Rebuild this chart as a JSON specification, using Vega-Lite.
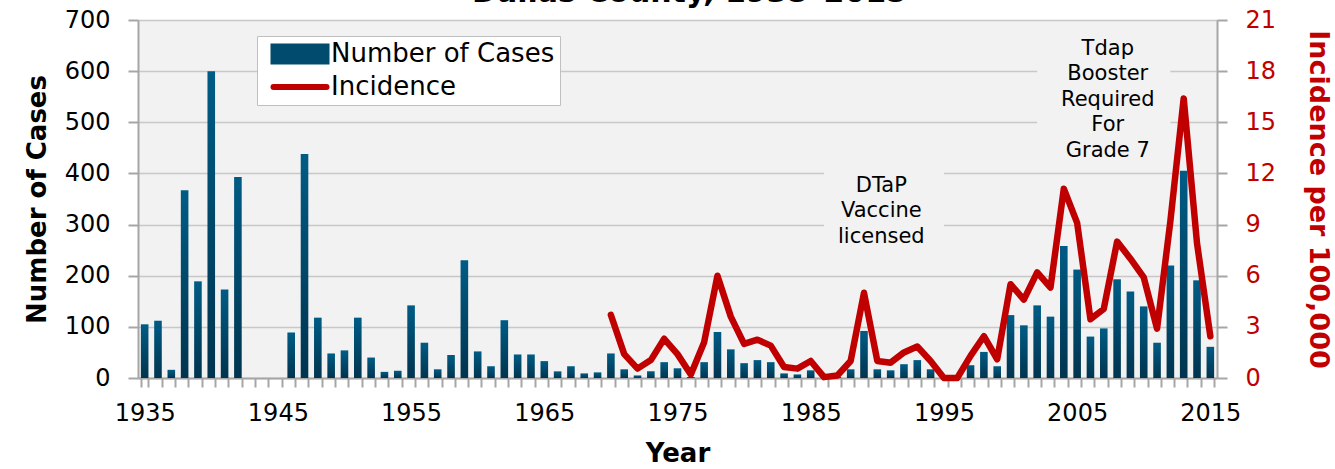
{
  "$schema": "https://vega.github.io/schema/vega-lite/v6.json",
  "width": 1079,
  "height": 358,
  "autosize": "none",
  "padding": {"left": 138, "top": 20, "right": 118, "bottom": 91},
  "background": "white",
  "config": {
    "font": "DejaVu Sans",
    "view": {"fill": "#f2f2f2", "stroke": null},
    "axis": {
      "labelFont": "DejaVu Sans",
      "titleFont": "DejaVu Sans",
      "labelColor": "#000000",
      "titleColor": "#000000",
      "domainColor": "#a6a6a6",
      "domainWidth": 2,
      "tickColor": "#a6a6a6",
      "tickWidth": 2,
      "gridColor": "#c8c8c8",
      "gridWidth": 1.5,
      "labelFontSize": 24,
      "titleFontSize": 26,
      "titleFontWeight": "bold"
    }
  },
  "title": {
    "text": "Dallas County, 1935\u20132015",
    "fontSize": 30,
    "fontWeight": "bold",
    "font": "DejaVu Sans",
    "color": "#000000",
    "anchor": "middle",
    "frame": "group",
    "baseline": "bottom",
    "offset": -30,
    "dx": 12
  },
  "datasets": {
    "pertussis": [
      {"year": 1935, "cases": 105, "incidence": null},
      {"year": 1936, "cases": 112, "incidence": null},
      {"year": 1937, "cases": 16, "incidence": null},
      {"year": 1938, "cases": 367, "incidence": null},
      {"year": 1939, "cases": 189, "incidence": null},
      {"year": 1940, "cases": 600, "incidence": null},
      {"year": 1941, "cases": 173, "incidence": null},
      {"year": 1942, "cases": 393, "incidence": null},
      {"year": 1943, "cases": 0, "incidence": null},
      {"year": 1944, "cases": 0, "incidence": null},
      {"year": 1945, "cases": 0, "incidence": null},
      {"year": 1946, "cases": 89, "incidence": null},
      {"year": 1947, "cases": 438, "incidence": null},
      {"year": 1948, "cases": 118, "incidence": null},
      {"year": 1949, "cases": 48, "incidence": null},
      {"year": 1950, "cases": 54, "incidence": null},
      {"year": 1951, "cases": 118, "incidence": null},
      {"year": 1952, "cases": 40, "incidence": null},
      {"year": 1953, "cases": 12, "incidence": null},
      {"year": 1954, "cases": 14, "incidence": null},
      {"year": 1955, "cases": 142, "incidence": null},
      {"year": 1956, "cases": 69, "incidence": null},
      {"year": 1957, "cases": 17, "incidence": null},
      {"year": 1958, "cases": 45, "incidence": null},
      {"year": 1959, "cases": 230, "incidence": null},
      {"year": 1960, "cases": 52, "incidence": null},
      {"year": 1961, "cases": 23, "incidence": null},
      {"year": 1962, "cases": 113, "incidence": null},
      {"year": 1963, "cases": 46, "incidence": null},
      {"year": 1964, "cases": 46, "incidence": null},
      {"year": 1965, "cases": 33, "incidence": null},
      {"year": 1966, "cases": 13, "incidence": null},
      {"year": 1967, "cases": 23, "incidence": null},
      {"year": 1968, "cases": 9, "incidence": null},
      {"year": 1969, "cases": 11, "incidence": null},
      {"year": 1970, "cases": 48, "incidence": 3.7},
      {"year": 1971, "cases": 17, "incidence": 1.4},
      {"year": 1972, "cases": 5, "incidence": 0.55},
      {"year": 1973, "cases": 13, "incidence": 1.05},
      {"year": 1974, "cases": 31, "incidence": 2.3},
      {"year": 1975, "cases": 19, "incidence": 1.4},
      {"year": 1976, "cases": 2, "incidence": 0.2},
      {"year": 1977, "cases": 31, "incidence": 2.1},
      {"year": 1978, "cases": 90, "incidence": 6.0},
      {"year": 1979, "cases": 56, "incidence": 3.6},
      {"year": 1980, "cases": 29, "incidence": 2.0},
      {"year": 1981, "cases": 35, "incidence": 2.25},
      {"year": 1982, "cases": 31, "incidence": 1.9},
      {"year": 1983, "cases": 9, "incidence": 0.65},
      {"year": 1984, "cases": 7, "incidence": 0.55},
      {"year": 1985, "cases": 15, "incidence": 1.0},
      {"year": 1986, "cases": 1, "incidence": 0.05},
      {"year": 1987, "cases": 2, "incidence": 0.15},
      {"year": 1988, "cases": 17, "incidence": 1.0},
      {"year": 1989, "cases": 92, "incidence": 5.0},
      {"year": 1990, "cases": 17, "incidence": 1.0},
      {"year": 1991, "cases": 15, "incidence": 0.9},
      {"year": 1992, "cases": 27, "incidence": 1.5},
      {"year": 1993, "cases": 35, "incidence": 1.85},
      {"year": 1994, "cases": 17, "incidence": 1.0},
      {"year": 1995, "cases": 0, "incidence": 0.0},
      {"year": 1996, "cases": 0, "incidence": 0.0},
      {"year": 1997, "cases": 25, "incidence": 1.3},
      {"year": 1998, "cases": 51, "incidence": 2.45},
      {"year": 1999, "cases": 23, "incidence": 1.1},
      {"year": 2000, "cases": 123, "incidence": 5.5},
      {"year": 2001, "cases": 103, "incidence": 4.6},
      {"year": 2002, "cases": 142, "incidence": 6.2},
      {"year": 2003, "cases": 120, "incidence": 5.3},
      {"year": 2004, "cases": 258, "incidence": 11.1},
      {"year": 2005, "cases": 212, "incidence": 9.1},
      {"year": 2006, "cases": 81, "incidence": 3.45},
      {"year": 2007, "cases": 97, "incidence": 4.05},
      {"year": 2008, "cases": 193, "incidence": 8.0},
      {"year": 2009, "cases": 169, "incidence": 7.0},
      {"year": 2010, "cases": 140, "incidence": 5.9},
      {"year": 2011, "cases": 69, "incidence": 2.9},
      {"year": 2012, "cases": 220, "incidence": 9.2},
      {"year": 2013, "cases": 405, "incidence": 16.4},
      {"year": 2014, "cases": 191, "incidence": 7.9},
      {"year": 2015, "cases": 61, "incidence": 2.45}
    ],
    "notes": [
      {"year": 1990, "from": 1986, "to": 1995, "top": 420, "bottom": 250, "textTop": 397, "label": "DTaP\nVaccine\nlicensed"},
      {"year": 2007, "from": 2002, "to": 2012, "top": 690, "bottom": 425, "textTop": 665, "label": "Tdap\nBooster\nRequired\nFor\nGrade 7"}
    ]
  },
  "layer": [
    {
      "layer": [
        {
          "data": {"name": "pertussis"},
          "mark": {
            "type": "bar",
            "color": {
              "gradient": "linear",
              "x1": 0, "y1": 0, "x2": 0, "y2": 1,
              "stops": [
                {"offset": 0, "color": "#005c85"},
                {"offset": 1, "color": "#00344f"}
              ]
            }
          },
          "encoding": {
            "x": {
              "field": "year",
              "type": "ordinal",
              "title": "Year",
              "scale": {"paddingInner": 0.43, "paddingOuter": 0.215},
              "axis": {
                "title": "Year",
                "labelAngle": 0,
                "labelExpr": "datum.value % 10 == 5 ? datum.label : ''",
                "labelOverlap": false,
                "tickBand": "extent",
                "tickSize": 9,
                "labelPadding": 14,
                "titlePadding": 15,
                "grid": false
              }
            },
            "y": {
              "field": "cases",
              "type": "quantitative",
              "title": "Number of Cases",
              "scale": {"domain": [0, 700], "nice": false},
              "axis": {
                "title": "Number of Cases",
                "values": [0, 100, 200, 300, 400, 500, 600, 700],
                "grid": true,
                "tickSize": 10,
                "labelPadding": 18,
                "titlePadding": 14
              }
            }
          }
        },
        {
          "data": {"name": "notes"},
          "mark": {"type": "rect", "fill": "#f2f2f2", "stroke": null},
          "encoding": {
            "x": {"field": "from", "type": "ordinal", "title": "Year"},
            "x2": {"field": "to"},
            "y": {"field": "bottom", "type": "quantitative", "title": "Number of Cases"},
            "y2": {"field": "top"}
          }
        },
        {
          "data": {"name": "notes"},
          "mark": {
            "type": "text",
            "align": "center",
            "baseline": "top",
            "fontSize": 21,
            "lineHeight": 25.5,
            "lineBreak": "\n",
            "color": "#000000",
            "dx": 4
          },
          "encoding": {
            "x": {"field": "year", "type": "ordinal", "title": "Year"},
            "y": {"field": "textTop", "type": "quantitative", "title": "Number of Cases"},
            "text": {"field": "label"}
          }
        }
      ]
    },
    {
      "data": {"name": "pertussis"},
      "transform": [{"filter": "datum.incidence != null"}],
      "mark": {"type": "line", "strokeWidth": 6.5, "strokeJoin": "round", "strokeCap": "round"},
      "encoding": {
        "x": {"field": "year", "type": "ordinal", "title": "Year"},
        "y": {
          "field": "incidence",
          "type": "quantitative",
          "scale": {"domain": [0, 21], "nice": false},
          "axis": {
            "orient": "right",
            "title": "Incidence per 100,000",
            "values": [0, 3, 6, 9, 12, 15, 18, 21],
            "grid": false,
            "tickSize": 10,
            "labelPadding": 18,
            "titlePadding": 28,
            "labelColor": "#c00000",
            "titleColor": "#c00000",
            "titleFontSize": 27
          }
        },
        "color": {
          "datum": "Incidence",
          "scale": {"domain": ["Number of Cases", "Incidence"], "range": ["#004b6e", "#c00000"]},
          "legend": {
            "orient": "none",
            "legendX": 119,
            "legendY": 16,
            "title": null,
            "direction": "vertical",
            "fillColor": "#ffffff",
            "strokeColor": "#c0c0c0",
            "padding": 5,
            "labelFont": "DejaVu Sans",
            "labelFontSize": 26,
            "labelColor": "#000000",
            "labelLimit": 500,
            "labelOffset": 18,
            "symbolOffset": 25,
            "rowPadding": 0,
            "symbolSize": 400,
            "symbolStrokeWidth": 0,
            "encode": {
              "symbols": {
                "update": {
                  "shape": {"signal": "datum.label == 'Incidence' ? 'M-2.65,0H2.65' : 'M-2.65,-0.75H2.65V0.75H-2.65Z'"},
                  "fill": {"signal": "datum.label == 'Incidence' ? 'transparent' : '#004b6e'"},
                  "stroke": {"signal": "datum.label == 'Incidence' ? '#c00000' : 'transparent'"},
                  "strokeWidth": {"value": 6},
                  "strokeCap": {"value": "round"},
                  "opacity": {"value": 1}
                }
              }
            }
          }
        }
      }
    }
  ],
  "resolve": {"scale": {"y": "independent"}}
}
